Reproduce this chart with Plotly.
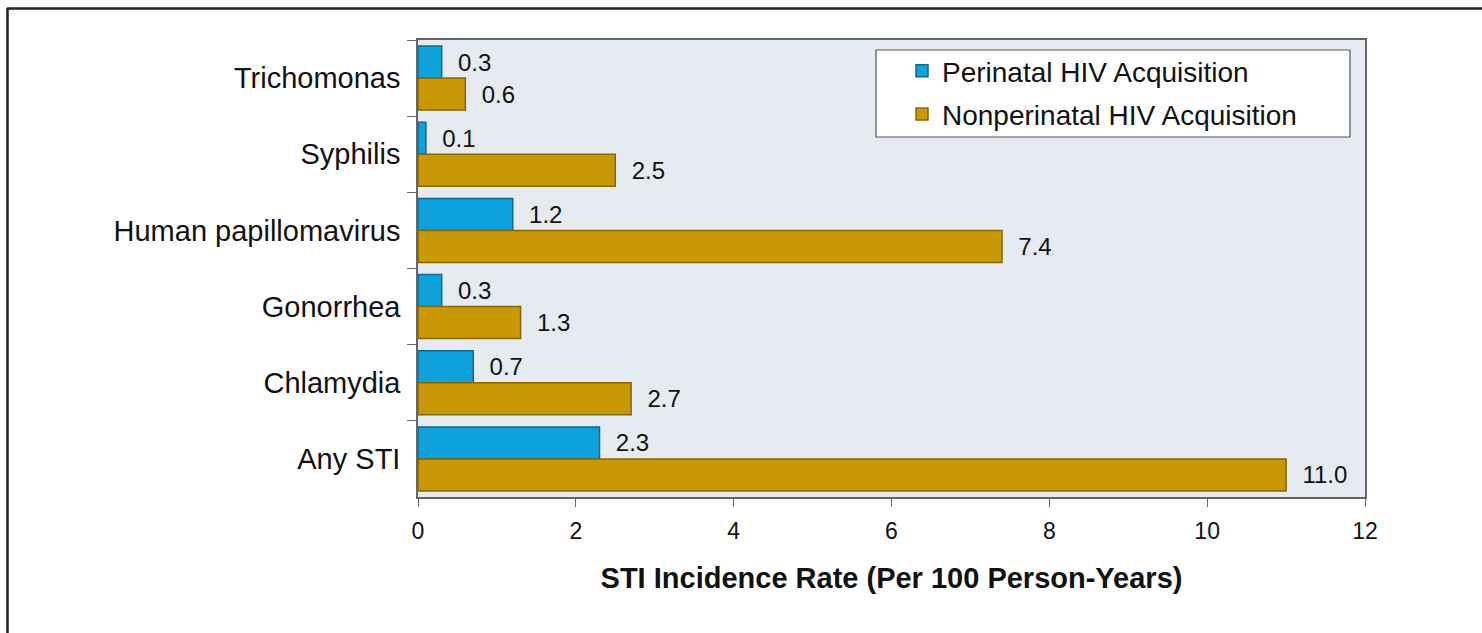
import plotly.graph_objects as go

categories = ["Trichomonas", "Syphilis", "Human papillomavirus", "Gonorrhea", "Chlamydia", "Any STI"]
perinatal = [0.3, 0.1, 1.2, 0.3, 0.7, 2.3]
nonperinatal = [0.6, 2.5, 7.4, 1.3, 2.7, 11.0]
series_names = ["Perinatal HIV Acquisition", "Nonperinatal HIV Acquisition"]
x_ticks = [0, 2, 4, 6, 8, 10, 12]

FONT = "Liberation Sans, Arial, sans-serif"
W, H = 1482, 633
L, R, T, B = 418, 1365, 40, 497

def px(xp):
    return (xp - L) / (R - L)

def py(yp):
    return (B - yp) / (B - T)

fig = go.Figure()
fig.add_trace(go.Bar(
    y=categories, x=perinatal, orientation="h", name=series_names[0],
    legendgroup="a",
    marker=dict(color="#0EA2DC", line=dict(color="#14658F", width=1.5)),
    text=["\u00a0\u00a0" + f"{v:.1f}" for v in perinatal], textposition="outside",
    textfont=dict(size=24, color="#111", family=FONT), constraintext="none",
    cliponaxis=False,
))
fig.add_trace(go.Bar(
    y=categories, x=nonperinatal, orientation="h", name=series_names[1],
    legendgroup="b",
    marker=dict(color="#C99807", line=dict(color="#876700", width=1.5)),
    text=["\u00a0\u00a0" + f"{v:.1f}" for v in nonperinatal], textposition="outside",
    textfont=dict(size=24, color="#111", family=FONT), constraintext="none",
    cliponaxis=False,
))

shapes = [
    # legend box
    dict(type="rect", xref="paper", yref="paper", x0=px(876), x1=px(1350), y0=py(137), y1=py(50),
         fillcolor="white", line=dict(color="#555", width=1.2), layer="above"),
    # outer frame lines
    dict(type="line", xref="paper", yref="paper", x0=px(7), x1=px(1490), y0=py(8.5), y1=py(8.5),
         line=dict(color="#222", width=2.5)),
    dict(type="line", xref="paper", yref="paper", x0=px(7.5), x1=px(7.5), y0=py(8), y1=py(640),
         line=dict(color="#222", width=2.5)),
]

fig.update_layout(
    width=W, height=H,
    margin=dict(l=L, r=W - R, t=T, b=H - B, pad=0),
    paper_bgcolor="white", plot_bgcolor="#E6EAF1",
    barmode="group", bargap=0.16, bargroupgap=0,
    font=dict(family=FONT, color="#111"),
    showlegend=True,
    legend=dict(x=px(902), y=py(46), xanchor="left", yanchor="top",
                bgcolor="rgba(0,0,0,0)", borderwidth=0,
                font=dict(size=28, family=FONT, color="#111"),
                traceorder="grouped", tracegroupgap=4),
    shapes=shapes,
    xaxis=dict(range=[0, 12], tickvals=x_ticks, ticktext=[str(v) for v in x_ticks],
               showgrid=False, zeroline=False, showline=True, linecolor="#666", linewidth=1.5,
               mirror=True, ticks="outside", ticklen=8, tickcolor="#666",
               tickfont=dict(size=23, family=FONT, color="#111"), ticklabelstandoff=5,
               title=dict(text="<b>STI Incidence Rate (Per 100 Person-Years)</b>",
                          font=dict(size=29, family=FONT, color="#111"), standoff=24)),
    yaxis=dict(autorange="reversed", showgrid=False, zeroline=False, showline=True,
               linecolor="#666", linewidth=1.5, mirror=True, ticks="outside", ticklen=9,
               tickcolor="#666", tickson="boundaries",
               tickfont=dict(size=29, family=FONT, color="#111"), ticklabelstandoff=10),
)

fig.write_html("out.html", config={"displayModeBar": False},
               post_script="document.body.style.margin='0';")
